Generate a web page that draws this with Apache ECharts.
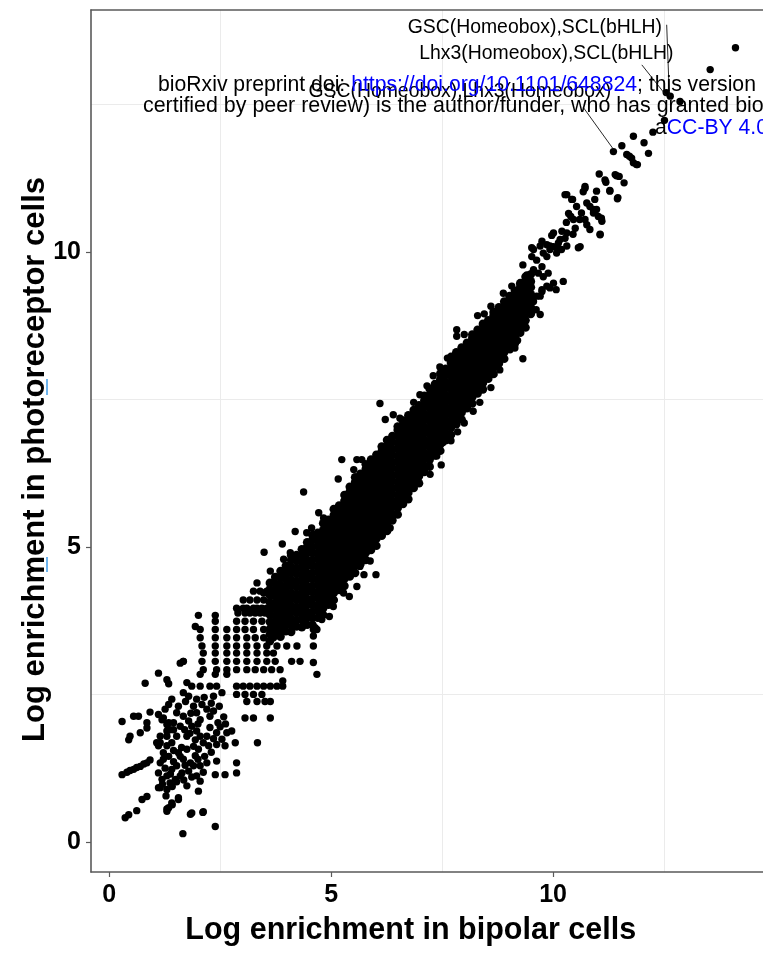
<!DOCTYPE html>
<html>
<head>
<meta charset="utf-8">
<script src="https://cdn.jsdelivr.net/npm/echarts@6/dist/echarts.min.js"></script>
<style>html,body{margin:0;padding:0;background:#fff}#chart{width:763px;height:953px}</style>
</head>
<body>
<div id="chart"></div>
<script>
// ---------- axis ticks / grid ----------
const xTicks = [0, 5, 10];
const yTicks = [0, 5, 10];
const gridX = [2.5, 7.5, 12.5];
const gridY = [2.5, 7.5, 12.5];
const xTitle = 'Log enrichment in bipolar cells';
const yTitle = 'Log enrichment in photoreceptor cells';

// ---------- points: [bipolar, photoreceptor] ----------
const lowCloud = [
[1.66,0.14],[2.39,0.26],[0.36,0.41],[0.44,0.46],[0.62,0.53],[1.30,0.56],[1.42,0.63],[1.56,0.72],[1.86,0.49],[2.11,0.50],[0.74,0.72],[0.85,0.77],
[0.29,1.14],[0.40,1.18],[0.47,1.21],[0.55,1.23],[0.62,1.26],[0.70,1.28],[0.78,1.32],[0.85,1.34],[0.92,1.39],
[1.15,0.92],[1.30,0.89],[1.42,0.94],[1.15,1.68],[1.30,1.79],[1.37,1.90],[1.45,2.02],[0.44,1.73],[0.47,1.79],
[0.29,2.04],[0.55,2.13],[0.66,2.13],[0.85,2.02],[0.85,1.93],[0.70,1.85],[0.92,2.20],[1.11,2.16],[1.22,2.10],[1.34,2.02],
[0.81,2.69],[1.11,2.86],[1.30,2.75],[1.34,2.68],[1.67,3.06],[1.60,3.03],[2.01,3.84],[2.39,3.84],[1.94,3.65],
[1.75,2.70],[1.86,2.64],[2.05,2.64],[2.27,2.64],[2.42,2.64],[2.54,2.53],[2.35,2.47],[1.67,2.53],[1.79,2.47],[1.41,2.42],[1.34,2.33],[1.26,2.25],
[1.97,2.42],[2.09,2.33],[1.90,2.30],[2.20,2.25],[2.35,2.22],[2.27,2.13],[2.05,2.07],[1.97,2.19],
[1.52,2.19],[1.67,2.13],[1.79,2.05],[1.60,1.96],[1.45,1.90],[1.19,2.07],[1.30,1.99],
[1.86,1.96],[1.97,1.88],[2.05,1.79],[2.20,1.79],[2.12,1.68],[2.24,1.63],[2.01,1.57],[1.94,1.73],[1.75,1.79],
[2.27,1.94],[2.42,1.85],[2.65,1.85],[2.76,1.88],[2.54,1.74],[2.42,1.65],[2.61,1.63],[2.84,1.68],
[1.52,1.79],[1.41,1.68],[1.30,1.63],[1.22,1.51],[1.11,1.63],[1.56,1.51],[1.67,1.40],[1.83,1.34],[1.94,1.46],[1.75,1.57],
[1.15,1.34],[1.11,1.17],[1.19,1.06],[1.30,1.12],[1.41,1.23],[1.52,1.29],[1.64,1.17],[1.79,1.20],[1.90,1.29],
[1.37,1.00],[1.49,1.06],[1.60,1.12],[2.05,1.29],[2.20,1.34],[2.42,1.37],[1.97,1.12],[2.05,1.03],
[2.39,1.14],[2.61,1.14],[2.87,1.34],[2.87,1.17],[1.11,0.92],[1.56,0.75],[1.41,0.66],[1.34,0.58],[1.30,0.52],[1.83,0.47],[2.12,0.51],
[2.01,0.86],[1.07,1.68],[1.15,1.79],[1.30,1.88],
[1.22,1.40],[1.34,1.45],[1.45,1.36],[1.60,1.45],[1.71,1.30],[1.26,1.25],[1.38,1.15],[1.52,1.02],[1.68,1.05],[1.86,1.10],[1.20,0.98],
[1.45,1.55],[1.63,1.60],[1.90,1.62],[2.00,1.40],[2.15,1.45],[2.30,1.52],[2.12,1.18],[1.75,0.95],[1.28,0.78],
[1.56,2.30],[1.72,2.38],[1.84,2.18],[2.14,2.45],[2.30,2.35],[2.48,2.30],[2.58,2.12],[2.45,2.02],[2.62,2.00],[1.70,1.90],[1.82,1.84],[2.00,2.00],[2.35,1.75],[2.50,1.95]
];

// quantized rows in the low range: [photoreceptor, [bipolar values]]
const gridRows = [
[4.25,[3.25,3.40,3.55]],
[4.10,[3.02,3.17,3.33,3.48]],
[3.96,[2.87,3.02,3.10,3.25,3.33,3.44,3.55]],
[3.88,[2.90,3.06,3.17,3.29,3.40,3.51]],
[3.74,[2.39,2.87,3.06,3.25,3.44]],
[3.60,[2.05,2.39,2.65,2.87,3.06,3.25,3.48,3.70,3.89]],
[3.46,[2.05,2.39,2.65,2.87,3.10,3.29,3.48,3.70]],
[3.32,[2.09,2.39,2.65,2.87,3.10,3.33,3.55,3.78,4.00,4.23]],
[3.20,[2.12,2.39,2.65,2.87,3.10,3.33,3.55,3.70]],
[3.06,[1.67,2.09,2.39,2.65,2.87,3.10,3.33,3.55,3.74,4.11,4.30]],
[2.92,[2.12,2.42,2.65,2.87,3.10,3.29,3.48,3.66,3.85]],
[2.84,[2.05,2.39,2.65]],
[2.64,[2.87,3.02,3.17,3.33,3.48,3.63,3.78,3.91]],
[2.50,[2.87,3.06,3.25,3.44]],
[2.38,[3.10,3.33,3.51,3.63]],
[2.10,[3.06,3.25,3.63]],
[1.68,[3.34]]
];

// dense diagonal band: [bipolar, [photoreceptor values]]
const coreColumns = [
[3.62,[3.40,3.52,3.61,3.73,3.85,3.94,4.06,4.18,4.28,4.39]],
[3.74,[3.50,3.62,3.72,3.83,3.95,4.05,4.17,4.27,4.38,4.49]],
[3.86,[3.48,3.60,3.70,3.81,3.92,4.04,4.14,4.26,4.36,4.48,4.59]],
[3.98,[3.57,3.68,3.80,3.90,4.02,4.12,4.24,4.34,4.46,4.56,4.68]],
[4.10,[3.56,3.68,3.78,3.90,4.00,4.12,4.22,4.34,4.44,4.56,4.66,4.78,4.86]],
[4.22,[3.65,3.76,3.88,3.98,4.10,4.20,4.32,4.42,4.54,4.64,4.76,4.86]],
[4.34,[3.64,3.76,3.86,3.98,4.08,4.20,4.30,4.42,4.52,4.64,4.74,4.86,4.96]],
[4.46,[3.68,3.80,3.90,4.02,4.12,4.24,4.34,4.46,4.56,4.68,4.78,4.90,5.00,5.08]],
[4.58,[3.68,3.80,3.90,4.02,4.12,4.24,4.34,4.46,4.56,4.68,4.78,4.90,5.00,5.12,5.20]],
[4.70,[3.80,3.92,4.02,4.14,4.24,4.36,4.46,4.58,4.68,4.80,4.90,5.02,5.12,5.24]],
[4.82,[3.85,3.96,4.08,4.18,4.30,4.40,4.52,4.62,4.74,4.84,4.96,5.06,5.18,5.28,5.40]],
[4.94,[4.02,4.14,4.24,4.36,4.46,4.58,4.68,4.80,4.90,5.02,5.12,5.24,5.34,5.46]],
[5.06,[4.10,4.22,4.32,4.44,4.54,4.66,4.76,4.88,4.98,5.10,5.20,5.32,5.42,5.54,5.64]],
[5.18,[4.27,4.38,4.50,4.60,4.72,4.82,4.94,5.04,5.16,5.26,5.38,5.48,5.60,5.70]],
[5.30,[4.34,4.46,4.56,4.68,4.78,4.90,5.00,5.12,5.22,5.34,5.44,5.56,5.66,5.78,5.88]],
[5.42,[4.50,4.62,4.72,4.84,4.94,5.06,5.16,5.28,5.38,5.50,5.60,5.72,5.82,5.94,6.02]],
[5.54,[4.56,4.68,4.78,4.90,5.00,5.12,5.22,5.34,5.44,5.56,5.66,5.78,5.88,6.00,6.10,6.18]],
[5.66,[4.71,4.82,4.94,5.04,5.16,5.26,5.38,5.48,5.60,5.70,5.82,5.92,6.04,6.14,6.24]],
[5.78,[4.78,4.90,5.00,5.12,5.22,5.34,5.44,5.56,5.66,5.78,5.88,6.00,6.10,6.22,6.32,6.40]],
[5.90,[4.95,5.06,5.18,5.28,5.40,5.50,5.62,5.72,5.84,5.94,6.06,6.16,6.28,6.38,6.48]],
[6.02,[5.02,5.14,5.24,5.36,5.46,5.58,5.68,5.80,5.90,6.02,6.12,6.24,6.34,6.46,6.56]],
[6.14,[5.19,5.30,5.42,5.52,5.64,5.74,5.86,5.96,6.08,6.18,6.30,6.40,6.52,6.62,6.70]],
[6.26,[5.27,5.38,5.50,5.60,5.72,5.82,5.94,6.04,6.16,6.26,6.38,6.48,6.60,6.70,6.81]],
[6.38,[5.45,5.56,5.68,5.78,5.90,6.00,6.12,6.22,6.34,6.44,6.56,6.66,6.78,6.88]],
[6.50,[5.55,5.66,5.78,5.88,6.00,6.10,6.22,6.32,6.44,6.54,6.66,6.76,6.88,6.98,7.04]],
[6.62,[5.73,5.84,5.96,6.06,6.18,6.28,6.40,6.50,6.62,6.72,6.84,6.94,7.06,7.14]],
[6.74,[5.81,5.92,6.04,6.14,6.26,6.36,6.48,6.58,6.70,6.80,6.92,7.02,7.14,7.23]],
[6.86,[6.00,6.11,6.23,6.33,6.45,6.55,6.67,6.77,6.89,6.99,7.11,7.21,7.32]],
[6.98,[6.08,6.20,6.30,6.42,6.52,6.64,6.74,6.86,6.96,7.08,7.18,7.30,7.40]],
[7.10,[6.27,6.38,6.50,6.60,6.72,6.82,6.94,7.04,7.16,7.26,7.38,7.48,7.56]],
[7.22,[6.36,6.48,6.58,6.70,6.80,6.92,7.02,7.14,7.24,7.36,7.46,7.58,7.68]],
[7.34,[6.55,6.66,6.78,6.88,7.00,7.10,7.22,7.32,7.44,7.54,7.66,7.76]],
[7.46,[6.63,6.74,6.86,6.96,7.08,7.18,7.30,7.40,7.52,7.62,7.74,7.84,7.94]],
[7.58,[6.81,6.92,7.04,7.14,7.26,7.36,7.48,7.58,7.70,7.80,7.92,8.02]],
[7.70,[6.90,7.02,7.12,7.24,7.34,7.46,7.56,7.68,7.78,7.90,8.00,8.12,8.22]],
[7.82,[7.08,7.20,7.30,7.42,7.52,7.64,7.74,7.86,7.96,8.08,8.18,8.30]],
[7.94,[7.16,7.28,7.38,7.50,7.60,7.72,7.82,7.94,8.04,8.16,8.26,8.38]],
[8.06,[7.35,7.46,7.58,7.68,7.80,7.90,8.02,8.12,8.24,8.34,8.46]],
[8.18,[7.43,7.54,7.66,7.76,7.88,7.98,8.10,8.20,8.32,8.42,8.54,8.60]],
[8.30,[7.60,7.72,7.82,7.94,8.04,8.16,8.26,8.38,8.48,8.60,8.68]],
[8.42,[7.67,7.78,7.90,8.00,8.12,8.22,8.34,8.44,8.56,8.66,8.78]],
[8.54,[7.85,7.96,8.08,8.18,8.30,8.40,8.52,8.62,8.74,8.84]],
[8.66,[7.93,8.04,8.16,8.26,8.38,8.48,8.60,8.70,8.82,8.92,8.98]],
[8.78,[8.11,8.22,8.34,8.44,8.56,8.66,8.78,8.88,9.00,9.06]],
[8.90,[8.19,8.30,8.42,8.52,8.64,8.74,8.86,8.96,9.08,9.16]],
[9.02,[8.37,8.48,8.60,8.70,8.82,8.92,9.04,9.14,9.25]],
[9.14,[8.45,8.56,8.68,8.78,8.90,9.00,9.12,9.22,9.34]],
[9.26,[8.63,8.74,8.86,8.96,9.08,9.18,9.30,9.40,9.47]],
[9.38,[8.72,8.84,8.94,9.06,9.16,9.28,9.38,9.50,9.58]],
[9.50,[8.95,9.06,9.18,9.28,9.40,9.50,9.62]]
];

const bandFringe = [
[3.49,4.91],[3.63,4.59],[3.90,5.05],[4.19,5.26],[4.38,5.93],[5.16,6.15],[5.24,6.48],[6.10,7.43],[6.22,7.16],[6.40,7.24],
[5.58,6.48],[5.69,6.48],[5.51,6.31],[4.72,5.58],[4.83,5.49],[4.56,5.32],[4.45,5.24],[4.08,4.90],[3.93,4.79],[3.33,4.39],[3.48,4.22],
[6.55,7.18],[6.86,7.45],[7.00,7.58],[7.16,7.73],[7.30,7.90],[7.45,8.05],[7.62,8.20],[7.83,8.68],[7.83,8.57],[8.00,8.60],[8.30,8.92],
[8.45,8.95],[8.60,9.08],[8.88,9.30],[9.07,9.42],[9.18,9.33],[9.26,9.44],[9.37,9.30],[9.41,9.36],
[4.60,3.60],[4.64,3.63],[4.79,3.77],[4.96,3.82],[5.05,3.99],[5.28,4.22],[5.41,4.16],[5.58,4.33],[5.65,4.67],[5.74,4.53],[5.88,4.76],[6.01,4.53],
[6.14,5.21],[6.22,5.41],[6.33,5.32],[6.48,5.69],[6.55,5.86],[6.71,5.97],[6.85,6.25],[6.93,6.42],[7.08,6.34],[7.23,6.23],[7.38,6.54],[7.48,6.39],
[7.52,6.77],[7.70,6.80],[7.85,6.95],[8.00,7.10],[8.20,7.30],[8.35,7.45],[8.60,7.70],[8.80,8.00],[8.92,8.34],[9.03,8.34],[9.14,8.37],[9.32,8.19],
[9.20,8.50],[9.48,9.14],[9.56,9.16],[9.62,9.02],[9.71,8.94],[9.63,9.25],[9.71,9.25],[9.75,9.33],[9.75,9.36],[9.86,9.42],[9.93,9.39],
[10.01,9.47],[10.07,9.36],[10.23,9.50],
[4.60,3.04],[4.68,2.84],[4.60,3.32],[4.60,3.49],[4.68,3.60],[3.91,2.73]
];

const upperPoints = [
[9.52,10.07],[9.75,10.18],[9.97,10.28],[9.86,10.12],[10.01,10.09],[10.12,10.15],[10.27,10.23],[10.19,10.04],[10.08,9.98],[9.93,10.04],
[9.78,9.58],[9.89,9.64],[9.75,9.75],[9.63,9.86],[9.56,9.70],[9.67,9.64],[9.32,9.78],[9.41,9.61],
[10.27,10.97],[10.44,10.89],[10.53,10.77],[10.72,11.11],[10.68,11.02],[10.94,10.89],[10.98,10.72],[11.09,10.57],[11.06,10.29],[10.76,10.46],[10.61,10.09],[10.83,10.77],[10.91,10.66],
[10.20,10.35],[10.30,10.50],[10.40,10.60],[10.50,10.40],[10.35,10.65],[10.60,10.55],[10.45,10.30],
[11.04,11.32],[11.40,11.31],[11.49,11.28],[11.60,11.17],[11.17,11.22],[11.28,11.04],[11.46,10.92],
[11.36,11.70],[11.66,11.65],[11.77,11.59],[11.88,11.48],[12.15,11.67],
[11.81,11.96],[12.05,11.85],[11.55,11.80],[11.72,11.62],[11.90,11.48],[11.81,11.51],
[11.43,11.29],[11.19,11.18],[11.28,11.03],[10.98,11.03],[10.72,11.08],[11.45,10.90],
[10.31,10.97],[10.42,10.89],[10.64,10.66],[10.72,10.55],[10.83,10.38],[10.76,10.83],[10.91,10.72],[11.02,10.60],[11.10,10.52],[10.46,10.55],
[10.31,10.32],[10.16,10.21],[10.01,10.32],[9.93,10.10],[9.78,9.98],[9.71,10.10],[9.56,10.04],[9.52,9.92],[9.86,9.92],[10.08,10.07],[10.31,10.10],[10.57,10.07],[11.06,10.30],
[12.25,12.03],[12.51,12.23],[12.64,12.64],[12.86,12.55],[12.55,12.70],[13.54,13.09],[14.11,13.46]
];

// ---------- annotation labels (ggrepel style) ----------
const labelTexts = ['GSC(Homeobox),SCL(bHLH)', 'Lhx3(Homeobox),SCL(bHLH)', 'GSC(Homeobox),Lhx3(Homeobox)'];
const labelX = [9.59, 9.85, 7.90];
const labelY = [13.80, 13.36, 12.72];
const leaderFrom = [[12.56, 13.85], [12.00, 13.17], [10.68, 12.45]];
const leaderTo = [[12.62, 12.64], [12.56, 12.64], [11.36, 11.74]];

// ---------- build ----------
const corePoints = coreColumns.flatMap(([x, ys]) => ys.map(y => [x, y]));
const otherPoints = [].concat(
  lowCloud,
  gridRows.flatMap(([y, xs]) => xs.map(x => [x, y])),
  bandFringe,
  upperPoints
);

const FONT = '"Liberation Sans", Arial, Helvetica, sans-serif';
const AXIS_COLOR = '#5a5a5a';
const chart = echarts.init(document.getElementById('chart'), null, {renderer: 'canvas'});

const leaderSeries = leaderFrom.map((p, i) => ({
  type: 'line', data: [p, leaderTo[i]], symbol: 'none', silent: true, z: 4,
  lineStyle: {color: '#111', width: 0.9}
}));

chart.setOption({
  animation: false,
  backgroundColor: '#ffffff',
  grid: {left: 91, right: 0, top: 10, bottom: 81, outerBoundsMode: 'none', containLabel: false},
  xAxis: [{
    type: 'value', min: -0.41, max: 14.73,
    axisLine: {show: true, onZero: false, lineStyle: {color: AXIS_COLOR, width: 1.6}},
    axisTick: {show: true, length: 5, customValues: xTicks, lineStyle: {color: AXIS_COLOR, width: 1.2}},
    axisLabel: {customValues: xTicks, fontSize: 25, fontWeight: 'bold', color: '#000', fontFamily: FONT, margin: 11},
    splitLine: {show: false}
  }, {
    type: 'value', position: 'top', min: -0.41, max: 14.73,
    axisLine: {show: true, onZero: false, lineStyle: {color: AXIS_COLOR, width: 1.6}},
    axisTick: {show: false}, axisLabel: {show: false}, splitLine: {show: false}
  }],
  yAxis: {
    type: 'value', min: -0.51, max: 14.1,
    axisLine: {show: true, onZero: false, lineStyle: {color: AXIS_COLOR, width: 1.6}},
    axisTick: {show: true, length: 5, customValues: yTicks, lineStyle: {color: AXIS_COLOR, width: 1.2}},
    axisLabel: {customValues: yTicks, fontSize: 25, fontWeight: 'bold', color: '#000', fontFamily: FONT, margin: 10},
    splitLine: {show: false}
  },
  series: [{
    type: 'line', data: [], silent: true, z: 0,
    markLine: {
      silent: true, symbol: ['none', 'none'], animation: false, z: 0,
      label: {show: false},
      lineStyle: {color: '#ebebeb', width: 1, type: 'solid'},
      emphasis: {disabled: true},
      data: gridX.map(v => ({xAxis: v})).concat(gridY.map(v => ({yAxis: v})))
    }
  }, {
    type: 'scatter', data: corePoints, symbol: 'circle', symbolSize: 8.6, silent: true, z: 2,
    itemStyle: {color: '#000', opacity: 1}
  }, {
    type: 'scatter', data: otherPoints, symbol: 'circle', symbolSize: 7.4, silent: true, z: 2,
    itemStyle: {color: '#000', opacity: 1}
  }].concat(leaderSeries, [{
    type: 'scatter', silent: true, z: 5, symbolSize: 1,
    itemStyle: {color: 'rgba(0,0,0,0)'},
    data: labelTexts.map((t, i) => ({name: t, value: [labelX[i], labelY[i]]})),
    label: {show: true, position: 'inside', formatter: p => p.name, fontSize: 19.4, color: '#000', textBorderWidth: 0, opacity: 1, fontFamily: FONT}
  }]),
  graphic: [
    {type: 'text', x: 410.7, y: 931, z: 50, style: {text: xTitle, fontSize: 30.5, fontWeight: 'bold', fontFamily: FONT, fill: '#000', align: 'center', verticalAlign: 'middle'}},
    {type: 'text', x: 35, y: 459.5, rotation: Math.PI / 2, z: 50, style: {text: yTitle, fontSize: 31, fontWeight: 'bold', fontFamily: FONT, fill: '#000', align: 'center', verticalAlign: 'middle'}},
    {type: 'text', x: 158, y: 85, z: 100, style: {
      text: '{k|bioRxiv preprint doi: }{u|https://doi.org/10.1101/648824}{k|; this version posted May 24, 2019. The copyright holder for this preprint (which was not}',
      fontSize: 21.2, fontFamily: FONT, verticalAlign: 'middle',
      rich: {k: {fill: '#000', fontSize: 21.2, fontFamily: FONT}, u: {fill: '#0000ff', fontSize: 21.2, fontFamily: FONT}}
    }},
    {type: 'text', x: 143, y: 106.5, z: 100, style: {
      text: 'certified by peer review) is the author/funder, who has granted bioRxiv a license to display the preprint in perpetuity. It is made',
      fontSize: 21.4, fontFamily: FONT, fill: '#000', verticalAlign: 'middle'
    }},
    {type: 'text', x: 655, y: 128, z: 100, style: {
      text: '{k|a}{u|CC-BY 4.0}{k| International license}',
      fontSize: 21.2, fontFamily: FONT, verticalAlign: 'middle',
      rich: {k: {fill: '#000', fontSize: 21.2, fontFamily: FONT}, u: {fill: '#0000ff', fontSize: 21.2, fontFamily: FONT}}
    }},
    {type: 'line', z: 100, shape: {x1: 47, y1: 379, x2: 47, y2: 395}, style: {stroke: '#3d9be9', lineWidth: 1.5}},
    {type: 'line', z: 100, shape: {x1: 47, y1: 557, x2: 47, y2: 572}, style: {stroke: '#3d9be9', lineWidth: 1.5}}
  ]
});
</script>
</body>
</html>
